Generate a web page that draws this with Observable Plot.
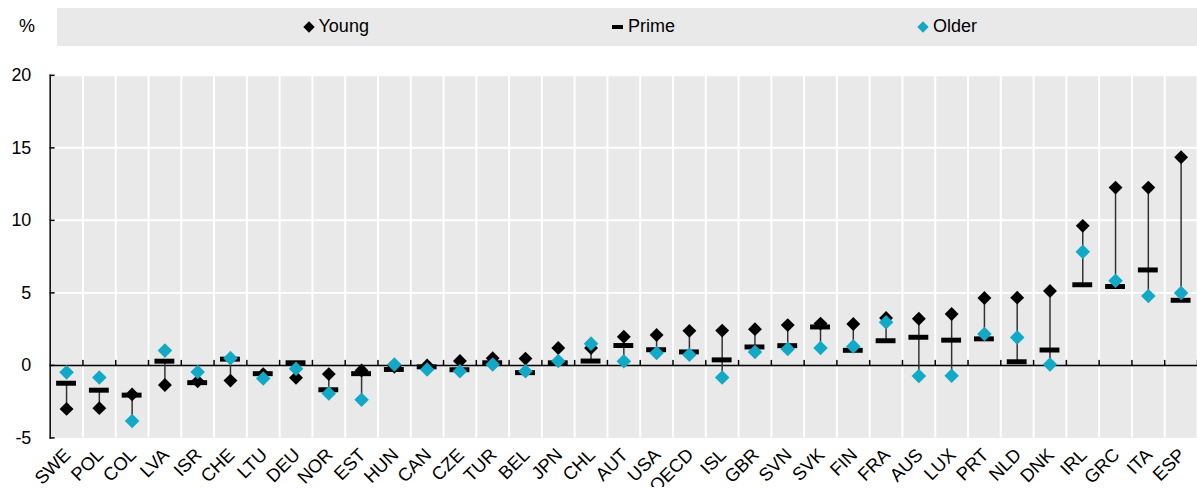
<!DOCTYPE html>
<html>
<head>
<meta charset="utf-8">
<script src="https://cdn.jsdelivr.net/npm/d3@7"></script>
<script src="https://cdn.jsdelivr.net/npm/@observablehq/plot@0.6"></script>
<style>
  html, body { margin: 0; padding: 0; background: #fff; overflow: hidden; width: 1197px; height: 490px; }
  body { font-family: "Liberation Sans", Arial, sans-serif; color: #000; }
  #legend { position: relative; height: 50px; width: 1197px; }
  #pct { position: absolute; left: 19px; top: 16px; font-size: 18px; }
  #bar { position: absolute; left: 57px; top: 8px; width: 1140px; height: 38px; background: #e9e9e9; }
  .item { position: absolute; top: 16px; font-size: 18px; line-height: 21px; display: flex; align-items: center; }
  .dia { width: 8px; height: 8px; transform: rotate(45deg); margin-right: 6px; display: inline-block; }
  .dash { width: 11px; height: 4px; background: #000; margin-right: 5px; display: inline-block; }
  #chart svg { display: block; }
</style>
</head>
<body>
<div id="legend">
  <div id="pct">%</div>
  <div id="bar"></div>
</div>
<div id="chart"></div>
<script>
const countries = ["SWE","POL","COL","LVA","ISR","CHE","LTU","DEU","NOR","EST","HUN","CAN","CZE","TUR","BEL","JPN","CHL","AUT","USA","OECD","ISL","GBR","SVN","SVK","FIN","FRA","AUS","LUX","PRT","NLD","DNK","IRL","GRC","ITA","ESP"];
const young = [-3.0,-2.95,-2.0,-1.35,-1.1,-1.05,-0.6,-0.85,-0.6,-0.35,-0.1,0.0,0.3,0.5,0.47,1.2,1.2,1.97,2.1,2.38,2.4,2.5,2.78,2.88,2.85,3.27,3.22,3.54,4.65,4.67,5.13,9.62,12.26,12.26,14.35];
const prime = [-1.23,-1.71,-2.05,0.29,-1.19,0.43,-0.57,0.18,-1.68,-0.57,-0.28,-0.1,-0.3,0.18,-0.5,0.18,0.3,1.37,1.08,0.93,0.38,1.27,1.36,2.65,1.04,1.7,1.94,1.74,1.83,0.25,1.06,5.56,5.44,6.58,4.49];
const older = [-0.48,-0.84,-3.84,1.02,-0.46,0.5,-0.9,-0.23,-1.93,-2.37,0.06,-0.28,-0.4,0.06,-0.4,0.3,1.5,0.29,0.86,0.74,-0.84,0.93,1.13,1.2,1.31,2.97,-0.73,-0.71,2.17,1.93,0.06,7.83,5.83,4.79,4.99];
const yTicks = [-5, 0, 5, 10, 15, 20];
const seriesNames = ["Young", "Prime", "Older"];
const colors = { Young: "#000000", Prime: "#000000", Older: "#12a9c7" };

const rows = countries.map((c, i) => ({
  country: c, young: young[i], prime: prime[i], older: older[i],
  hi: Math.max(young[i], prime[i]),
  lo: Math.min(young[i], prime[i], older[i])
}));

// legend
const legendPos = { Young: 304.5, Prime: 612, Older: 919 };
const bar = document.getElementById("legend");
seriesNames.forEach(name => {
  const it = document.createElement("div");
  it.className = "item";
  it.style.left = legendPos[name] + "px";
  const m = document.createElement("span");
  if (name === "Prime") { m.className = "dash"; }
  else { m.className = "dia"; m.style.background = colors[name]; }
  it.appendChild(m);
  it.appendChild(document.createTextNode(name));
  bar.appendChild(it);
});

const W = 1205, ML = 50, MR = 0;
const step = (W - ML - MR) / countries.length;
const tickShape = { draw(ctx, l) { ctx.moveTo(0, 0); ctx.lineTo(0, -l); } };

const chart = Plot.plot({
  width: W,
  height: 440,
  marginLeft: ML,
  marginRight: MR,
  marginTop: 25,
  marginBottom: 50,
  style: { fontFamily: "'Liberation Sans', Arial, sans-serif", fontSize: "18px", color: "#000", background: "transparent" },
  x: { domain: countries, padding: 0, label: null },
  y: { domain: [-5, 20], label: null },
  marks: [
    Plot.frame({ fill: "#e9e9e9", stroke: null }),
    Plot.gridY({ ticks: [5, 10, 15, 20], stroke: "#fff", strokeOpacity: 1, strokeWidth: 2 }),
    Plot.ruleX(countries, { x: d => d, dx: step / 2, stroke: "#fff", strokeWidth: 2 }),
    Plot.ruleY([0], { stroke: "#000", strokeWidth: 1.5 }),
    Plot.vector(countries, { x: d => d, y: 0, dx: step / 2, length: 5, rotate: 0, anchor: "start", shape: tickShape, stroke: "#000", strokeWidth: 1.5 }),
    Plot.ruleX(rows, { x: "country", y1: "lo", y2: "hi", stroke: "#333", strokeWidth: 1.5 }),
    Plot.dot(rows, { x: "country", y: "young", symbol: "diamond2", r: 6.3, fill: colors.Young, stroke: null }),
    Plot.tickY(rows, { x: "country", y: "prime", stroke: colors.Prime, strokeWidth: 5, insetLeft: (step - 20) / 2, insetRight: (step - 20) / 2 }),
    Plot.dot(rows, { x: "country", y: "older", symbol: "diamond2", r: 6.6, fill: colors.Older, stroke: null }),
    Plot.axisY({ ticks: yTicks, tickSize: -5, tickPadding: 24, tickFormat: d => String(d), fontSize: 18, strokeWidth: 1.5 }),
    Plot.frame({ anchor: "left", stroke: "#000", strokeWidth: 1.5 }),
    Plot.axisX({ tickRotate: -45, tickSize: 0, tickPadding: 14, dx: 1, fontSize: 18.5 })
  ]
});
document.getElementById("chart").appendChild(chart);
</script>
</body>
</html>
